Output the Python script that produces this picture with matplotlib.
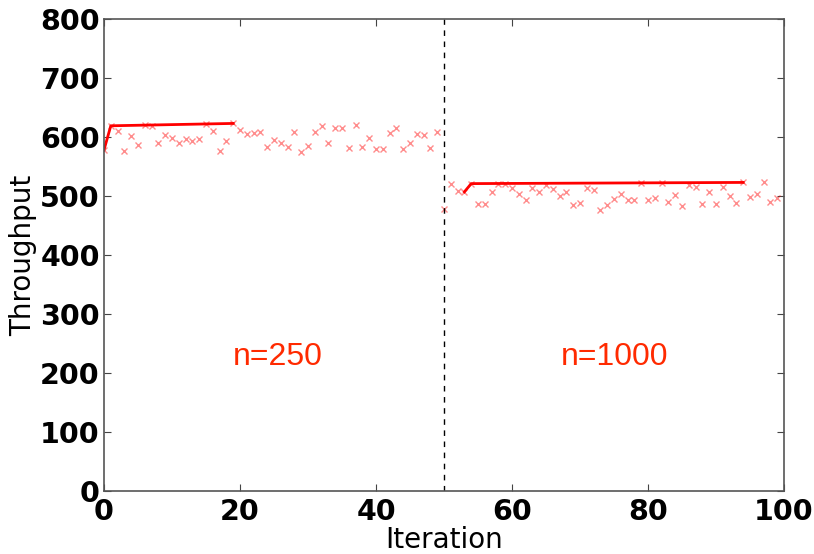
import numpy as np
import matplotlib
matplotlib.use("Agg")
import matplotlib.pyplot as plt

iterations = np.arange(100)
throughput = [
    578, 619, 610, 576, 602, 587, 620, 618, 590, 604,
    599, 589, 597, 594, 597, 622, 611, 577, 593, 623,
    612, 605, 607, 609, 583, 595, 589, 583, 608, 575,
    584, 609, 619, 589, 616, 616, 581, 620, 583, 598,
    579, 579, 607, 616, 580, 590, 605, 604, 581, 608,
    478, 521, 509, 507, 521, 487, 486, 506, 520, 521,
    514, 504, 493, 514, 506, 519, 512, 500, 507, 485,
    488, 513, 511, 476, 485, 495, 504, 493, 493, 522,
    493, 496, 522, 490, 502, 483, 518, 516, 487, 506,
    487, 516, 500, 488, 523, 498, 503, 523, 489, 497,
]
best_left_idx = [0, 1, 19]
best_right_idx = [53, 54, 94]
labels = ["n=250", "n=1000"]
label_x = [25.6, 75.1]
label_y = [227, 227]
switch_at = 50

thr = np.array(throughput, dtype=float)

fig = plt.figure(figsize=(8.14, 5.54), dpi=100)
ax = fig.add_axes([104/814, 1 - 491/554, 680/814, 472/554])

ax.plot(iterations, thr, linestyle='none', marker='x', color='red',
        alpha=0.45, markersize=4.5, markeredgewidth=1.0)

for idx in (best_left_idx, best_right_idx):
    ax.plot(iterations[idx], thr[idx], color='red', linewidth=2)

ax.axvline(switch_at, color='black', linestyle='--', linewidth=1,
           dashes=(4, 4))

for t, x, y in zip(labels, label_x, label_y):
    ax.text(x, y, t, color='#ff2a00', fontsize=23, family='Liberation Sans',
            ha='center', va='center')

ax.set_xlim(0, 100)
ax.set_ylim(0, 800)
ax.set_xticks(np.arange(0, 101, 20))
ax.set_yticks(np.arange(0, 801, 100))
for lab in ax.get_xticklabels() + ax.get_yticklabels():
    lab.set_fontweight('bold')
    lab.set_fontsize(20.5)
ax.tick_params(direction='in', top=True, right=True, length=5, width=0.8,
               color='#444444')
ax.tick_params(axis='y', pad=3)
ax.tick_params(axis='x', pad=5)
for s in ax.spines.values():
    s.set_color('#555555')
    s.set_linewidth(1.2)

ax.set_xlabel('Iteration', fontsize=20, labelpad=0)
ax.set_ylabel('Throughput', fontsize=20, labelpad=2)

fig.savefig('out.png', dpi=100)
